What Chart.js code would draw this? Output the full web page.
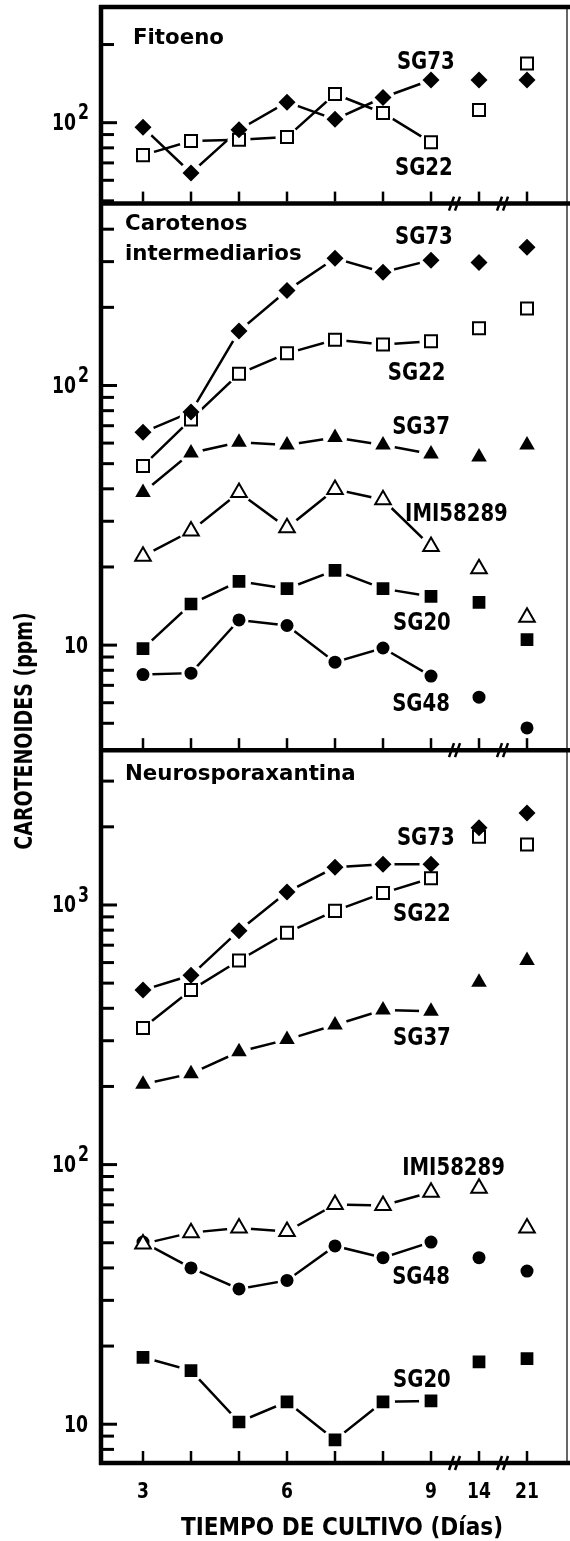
<!DOCTYPE html>
<html>
<head>
<meta charset="utf-8">
<script src="https://cdn.jsdelivr.net/npm/chart.js@4.4.0/dist/chart.umd.min.js"></script>
<style>
  html, body { margin: 0; padding: 0; background: #fff; }
  #wrap { width: 570px; height: 1541px; position: relative; }
</style>
</head>
<body>
<div id="wrap"><canvas id="chart" width="570" height="1541"></canvas></div>
<script>
// x axis: culture days, drawn at equal steps with breaks after 9 and 14
const days = ['3', '4', '5', '6', '7', '8', '9', '14', '21'];
const dayLabels = ['3', '', '', '6', '', '', '9', '14', '21'];

// Fitoeno (ppm)
const fitSG73 = [96, 64, 94, 120, 103, 125, 146, 146, 146];
const fitSG22 = [75, 85, 86, 88, 129, 109, 84, 112, 169];

// Carotenos intermediarios (ppm)
const carSG73 = [66, 79, 162, 232, 309, 273, 304, 298, 341];
const carSG22 = [49, 74, 111, 133, 150, 144, 148, 166, 198];
const carSG37 = [38.7, 55, 60.5, 59, 63, 59, 54.5, 53, 59];
const carIMI = [22, 27.5, 38.7, 28.3, 39.8, 36.3, 24, 19.7, 12.8];
const carSG20 = [9.7, 14.4, 17.6, 16.5, 19.4, 16.5, 15.4, 14.6, 10.5];
const carSG48 = [7.7, 7.8, 12.5, 11.9, 8.6, 9.75, 7.6, 6.3, 4.8];

// Neurosporaxantina (ppm)
const neuSG73 = [470, 536, 796, 1121, 1397, 1434, 1434, 1985, 2262];
const neuSG22 = [336, 470, 611, 782, 949, 1111, 1268, 1833, 1709];
const neuSG37 = [204, 224, 272, 303, 345, 394, 390, 504, 611];
const neuIMI = [49.5, 54.7, 57, 55.2, 70.2, 69.6, 78.3, 81, 57];
const neuSG48 = [50.3, 40, 33.2, 35.8, 48.6, 43.8, 50.3, 43.8, 38.9];
const neuSG20 = [18.1, 16.1, 10.2, 12.2, 8.7, 12.2, 12.3, 17.4, 17.9];

// axis ranges of the three panels (ppm)
const fitRange = [48.8, 279];
const carRange = [3.94, 502];
const neuRange = [7.09, 3948];

// text placed next to the curves: [axis, text, x index, value, kind]
const notes = [
  ['yF', 'Fitoeno', -0.21, 216, 'title'],
  ['yF', 'SG73', 5.29, 174],
  ['yF', 'SG22', 5.25, 67.9],
  ['yC', 'Carotenos', -0.375, 427, 'title'],
  ['yC', 'intermediarios', -0.375, 326, 'title'],
  ['yC', 'SG73', 5.25, 380],
  ['yC', 'SG22', 5.1, 113],
  ['yC', 'SG37', 5.19, 70.5],
  ['yC', 'IMI58289', 5.46, 32.4],
  ['yC', 'SG20', 5.21, 12.4],
  ['yC', 'SG48', 5.19, 6.0],
  ['yN', 'Neurosporaxantina', -0.375, 3248, 'title'],
  ['yN', 'SG73', 5.29, 1834],
  ['yN', 'SG22', 5.21, 940],
  ['yN', 'SG37', 5.21, 313],
  ['yN', 'IMI58289', 5.4, 98.5],
  ['yN', 'SG48', 5.19, 37.5],
  ['yN', 'SG20', 5.21, 15.1]
];

const FONT = '"DejaVu Sans", sans-serif';

const markers = {
  SG73: { pointStyle: 'rectRot', radius: 8.5, fill: '#000', open: false },
  SG22: { pointStyle: 'rect', radius: 8.5, fill: '#fff', open: true },
  SG37: { pointStyle: 'triangle', radius: 9, fill: '#000', open: false },
  IMI: { pointStyle: 'triangle', radius: 9, fill: '#fff', open: true },
  SG20: { pointStyle: 'rect', radius: 9, fill: '#000', open: false },
  SG48: { pointStyle: 'circle', radius: 6.5, fill: '#000', open: false }
};

// each series: one dataset for the joined line (days 3-9), one for the symbols
function series(values, axis, kind) {
  const m = markers[kind];
  const pts = values.map((v, i) => ({ x: i, y: v }));
  return [
    {
      data: pts, yAxisID: axis, order: 3,
      borderColor: '#000', borderWidth: 2.5, pointRadius: 0, tension: 0,
      segment: { borderColor: c => (c.p0DataIndex >= days.indexOf('9') ? 'rgba(0,0,0,0)' : '#000') }
    },
    {
      data: pts, yAxisID: axis, order: 1, showLine: false, isMarker: true,
      pointStyle: m.pointStyle, pointRadius: m.radius,
      pointBackgroundColor: m.fill, pointBorderColor: '#000',
      pointBorderWidth: m.open ? 2 : 0
    }
  ];
}

const datasets = [].concat(
  series(fitSG73, 'yF', 'SG73'),
  series(fitSG22, 'yF', 'SG22'),
  series(carSG73, 'yC', 'SG73'),
  series(carSG22, 'yC', 'SG22'),
  series(carSG37, 'yC', 'SG37'),
  series(carIMI, 'yC', 'IMI'),
  series(carSG20, 'yC', 'SG20'),
  series(carSG48, 'yC', 'SG48'),
  series(neuSG73, 'yN', 'SG73'),
  series(neuSG22, 'yN', 'SG22'),
  series(neuSG37, 'yN', 'SG37'),
  series(neuIMI, 'yN', 'IMI'),
  series(neuSG48, 'yN', 'SG48'),
  series(neuSG20, 'yN', 'SG20')
);

function logTicks(min, max) {
  const ticks = [];
  for (let k = Math.floor(Math.log10(min)); k <= Math.ceil(Math.log10(max)); k++) {
    for (let s = 1; s <= 9; s++) {
      const v = s * Math.pow(10, k);
      if (v >= min * 1.02 && v <= max * 0.98) ticks.push({ value: v, major: s === 1 });
    }
  }
  return ticks;
}

function yAxis(range) {
  return {
    type: 'logarithmic', position: 'left', stack: 'panels',
    stackWeight: Math.log10(range[1] / range[0]),
    min: range[0], max: range[1], bounds: 'data',
    grid: { display: false }, border: { display: false }, ticks: { display: false },
    afterBuildTicks: s => { s.ticks = logTicks(s.min, s.max); },
    afterFit: s => { s.width = 101; }
  };
}

function txt(ctx, s, x, y, size, sx, align) {
  ctx.save();
  ctx.translate(x, y);
  ctx.scale(sx, 1);
  ctx.font = 'bold ' + size + 'px ' + FONT;
  ctx.textAlign = align || 'left';
  ctx.textBaseline = 'alphabetic';
  ctx.fillStyle = '#000';
  ctx.fillText(s, 0, 0.365 * size);
  ctx.restore();
}

function line(ctx, x1, y1, x2, y2, w) {
  ctx.beginPath();
  ctx.lineWidth = w;
  ctx.moveTo(x1, y1);
  ctx.lineTo(x2, y2);
  ctx.stroke();
}

// white rings behind the symbols so the lines stop short of them
const haloPlugin = {
  id: 'halo',
  beforeDatasetsDraw(chart) { chart._haloDone = false; },
  beforeDatasetDraw(chart, args) {
    if (chart._haloDone || !chart.data.datasets[args.index].isMarker) return;
    chart._haloDone = true;
    const ctx = chart.ctx;
    ctx.save();
    ctx.fillStyle = '#fff';
    chart.data.datasets.forEach((ds, i) => {
      if (!ds.isMarker) return;
      chart.getDatasetMeta(i).data.forEach(el => {
        ctx.beginPath();
        ctx.arc(el.x, el.y, ds.pointRadius + 3, 0, Math.PI * 2);
        ctx.fill();
      });
    });
    ctx.restore();
  }
};

const framePlugin = {
  id: 'frame',
  afterDraw(chart) {
    const ctx = chart.ctx;
    const area = chart.chartArea;
    const x = chart.scales.x;
    const panels = ['yF', 'yC', 'yN'].map(id => chart.scales[id]);
    ctx.save();
    ctx.strokeStyle = '#000';
    ctx.lineCap = 'butt';

    // frame: top, left axis, panel borders, thin right edge
    line(ctx, area.left - 2, area.top, chart.width, area.top, 4.5);
    line(ctx, area.left, area.top - 2, area.left, area.bottom + 2, 4.5);
    panels.forEach(s => line(ctx, area.left - 2, s.bottom, chart.width, s.bottom, 4.5));
    line(ctx, area.right, area.top, area.right, area.bottom, 1.2);

    panels.forEach(s => {
      // x ticks pointing up from each panel's bottom
      days.forEach((d, i) => {
        const px = x.getPixelForValue(i);
        line(ctx, px, s.bottom - 2, px, s.bottom - 12, 2.5);
      });
      // axis break marks
      [6.5, 7.5].forEach(b => {
        const px = x.getPixelForValue(b);
        line(ctx, px - 6, s.bottom + 7, px - 1, s.bottom - 7, 2.5);
        line(ctx, px, s.bottom + 7, px + 5, s.bottom - 7, 2.5);
      });
      // y ticks pointing right
      s.ticks.forEach(t => {
        const py = s.getPixelForValue(t.value);
        line(ctx, area.left, py, area.left + (t.major ? 16 : 13), py, 3);
        if (t.major) {
          const k = Math.round(Math.log10(t.value));
          if (k === 1) {
            txt(ctx, '10', area.left - 13, py - 1, 23, 0.75, 'right');
          } else {
            txt(ctx, '10', area.left - 25, py - 1, 23, 0.75, 'right');
            txt(ctx, String(k), area.left - 23, py - 11, 21, 0.75, 'left');
          }
        }
      });
    });

    // x tick labels and titles
    dayLabels.forEach((lab, i) => {
      if (lab) txt(ctx, lab, x.getPixelForValue(i), 1490, 22, 0.78, 'center');
    });
    txt(ctx, 'TIEMPO DE CULTIVO (Días)', 342, 1526, 24, 0.9, 'center');

    ctx.save();
    ctx.translate(23, 731);
    ctx.rotate(-Math.PI / 2);
    txt(ctx, 'CAROTENOIDES (ppm)', 0, 0, 24, 0.79, 'center');
    ctx.restore();

    notes.forEach(n => {
      const s = chart.scales[n[0]];
      const px = x.getPixelForValue(n[2]);
      const py = s.getPixelForValue(n[3]);
      if (n[4] === 'title') txt(ctx, n[1], px, py, 22, 0.97, 'left');
      else txt(ctx, n[1], px, py, 24, 0.82, 'left');
    });
    ctx.restore();
  }
};

new Chart(document.getElementById('chart'), {
  type: 'line',
  data: { datasets: datasets },
  options: {
    responsive: false,
    animation: false,
    events: [],
    layout: { autoPadding: false, padding: { top: 7, right: 3, left: 0, bottom: 0 } },
    plugins: { legend: { display: false }, tooltip: { enabled: false } },
    scales: {
      x: {
        type: 'linear', min: -0.875, max: 8.833,
        grid: { display: false }, border: { display: false }, ticks: { display: false },
        afterFit: s => { s.height = 78; }
      },
      // stacked left axes are placed top-down from the last one listed
      yN: yAxis(neuRange),
      yC: yAxis(carRange),
      yF: yAxis(fitRange)
    }
  },
  plugins: [haloPlugin, framePlugin]
});
</script>
</body>
</html>
